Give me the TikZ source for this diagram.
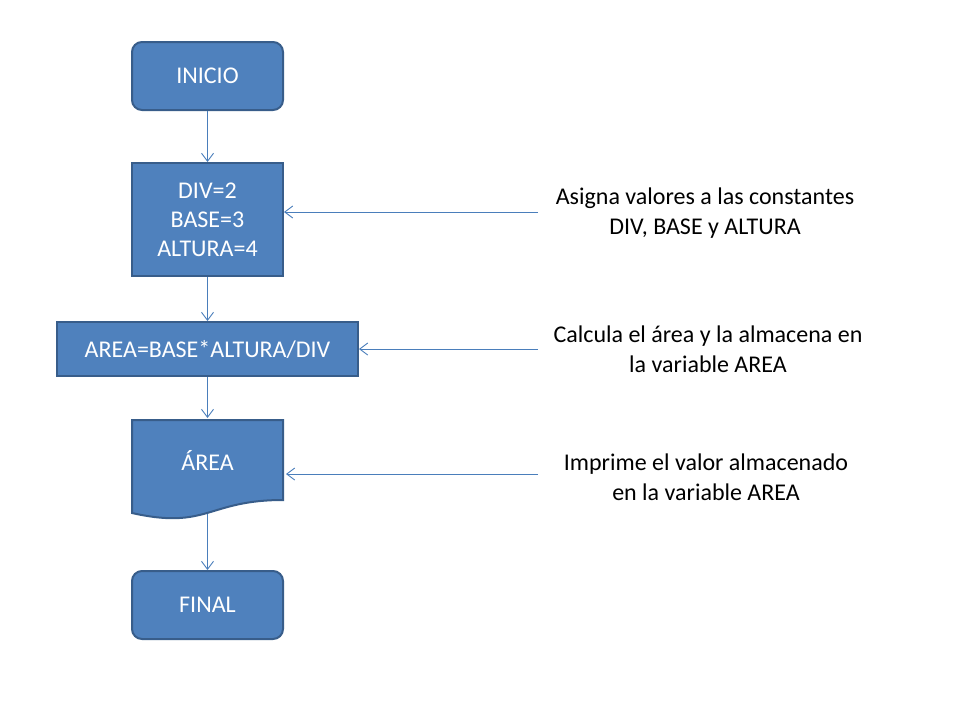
\documentclass[tikz,border=0pt]{standalone}
\usepackage{fontspec}
\setmainfont{Carlito}
\usetikzlibrary{arrows.meta}
\definecolor{relleno}{HTML}{4F81BD}
\definecolor{borde}{HTML}{385D8A}
\definecolor{linea}{HTML}{4A7EBB}

\begin{document}
\begin{tikzpicture}[x=1pt,y=-1pt,
	caja/.style={draw=borde, fill=relleno, line width=2pt, text=white, font=\fontsize{24}{29}\selectfont, align=center, inner sep=0pt},
	terminal/.style={caja, rounded corners=10pt, minimum width=151pt, minimum height=68pt},
	nota/.style={font=\fontsize{24}{30}\selectfont, align=center},
	flecha/.style={draw=linea, line width=0.9pt, -{Straight Barb[length=8pt,width=12pt]}}]
	\useasboundingbox (0,0) rectangle (960,720);
	% diagrama de flujo
	\node[terminal] (inicio) at (207.5,76) {INICIO};
	\node[caja, minimum width=151pt, minimum height=113pt] (datos) at (207.5,219.5) {DIV=2\\BASE=3\\ALTURA=4};
	\node[caja, minimum width=301pt, minimum height=54pt] (calculo) at (207.5,349) {AREA=BASE*ALTURA/DIV};
	\draw[caja] (132,420) -- (283,420) -- (283,500) .. controls (207.5,500) and (207.5,530) .. (132,513) -- cycle;
	\node[caja, draw=none, fill=none, minimum width=155pt, minimum height=82pt] (salida) at (207.5,460) {ÁREA};
	\coordinate (fondo) at (207.5,514);
	\node[terminal] (final) at (207.5,605) {FINAL};
	% comentarios
	\node[nota] (nota1) at (705,213) {Asigna valores a las constantes\\DIV, BASE y ALTURA};
	\node[nota] (nota2) at (708,349) {Calcula el área y la almacena en\\la variable AREA};
	\node[nota] (nota3) at (706,477) {Imprime el valor almacenado\\en la variable AREA};
	\coordinate (c1) at (538,212);
	\coordinate (c2) at (538,349);
	\coordinate (c3) at (538,474);
	\path[every edge/.style=flecha]
	(inicio) edge (datos)
	(datos) edge (calculo)
	(calculo) edge (salida)
	(fondo) edge (final)
	(c1) edge (c1 -| datos.east)
	(c2) edge (c2 -| calculo.east)
	(c3) edge (c3 -| salida.east);
\end{tikzpicture}
\end{document}
